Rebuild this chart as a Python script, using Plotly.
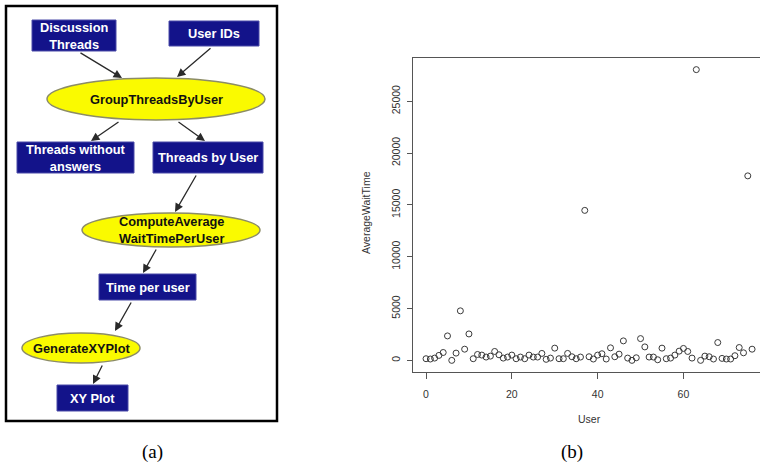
import plotly.graph_objects as go

# ---------------- data: panel (b) scatter ----------------
avg_wait_time = [160, 130, 220, 480, 760, 2360, 0, 700, 4780, 1080,
                 2550, 160, 570, 510, 320, 410, 860, 540, 220, 320,
                 510, 160, 320, 160, 510, 320, 320, 670, 100, 220,
                 1180, 160, 160, 670, 350, 160, 320, 14470, 350, 130,
                 510, 640, 130, 1210, 350, 600, 1880, 220, 0, 250,
                 2100, 1300, 320, 320, 60, 1180, 160, 220, 510, 890,
                 1150, 860, 220, 28050, 0, 410, 350, 130, 1720, 190,
                 130, 130, 450, 1240, 730, 17800, 1080]
users = list(range(len(avg_wait_time)))
x_ticks = [0, 20, 40, 60]
x_tick_labels = ["0", "20", "40", "60"]
y_ticks = [0, 5000, 10000, 15000, 20000, 25000]
y_tick_labels = ["0", "5000", "10000", "15000", "20000", "25000"]

# ---------------- data: panel (a) workflow ----------------
node_labels = ["Discussion<br>Threads", "User IDs", "GroupThreadsByUser",
               "Threads without<br>answers", "Threads by User",
               "ComputeAverage<br>WaitTimePerUser", "Time per user",
               "GenerateXYPlot", "XY Plot"]
node_kinds = ["data", "data", "process", "data", "data",
              "process", "data", "process", "data"]
edges = [(0, 2), (1, 2), (2, 3), (2, 4), (4, 5), (5, 6), (6, 7), (7, 8)]

# layout of the diagram (pixel space, y downwards): x0, y0, x1, y1
node_boxes = [(32, 20, 116, 51), (169, 21, 259, 46), (47, 78, 265, 120),
              (17, 142, 134, 173), (153, 142, 263, 173), (82, 213, 260, 247),
              (99, 274, 196, 300), (22, 333, 140, 363), (57, 385, 128, 411)]
edge_paths = [((79, 52), (122, 78)), ((212, 47), (177, 77)),
              ((120, 121), (91, 141)), ((177, 121), (205, 141)),
              ((197, 174), (175, 212)), ((157, 248), (143, 273)),
              ((132, 301), (115, 331)), ((103, 364), (93, 384))]

W, H = 760, 466
fig = go.Figure()

fig.add_trace(go.Scatter(
    x=users, y=avg_wait_time, mode="markers",
    marker=dict(symbol="circle-open", size=6, color="#3a3a3a",
                line=dict(width=1, color="#3a3a3a")),
    xaxis="x", yaxis="y", showlegend=False, hoverinfo="x+y"))

shapes = []
annotations = []

# outer frame of panel (a)
shapes.append(dict(type="rect", xref="x2", yref="y2", x0=6, y0=6, x1=277, y1=421,
                   line=dict(color="black", width=2.5), fillcolor="rgba(0,0,0,0)"))

for label, kind, (x0, y0, x1, y1) in zip(node_labels, node_kinds, node_boxes):
    if kind == "data":
        shapes.append(dict(type="rect", xref="x2", yref="y2", x0=x0, y0=y0, x1=x1, y1=y1,
                           fillcolor="#13138a", line=dict(color="#4a4aa8", width=1)))
        color = "white"
    else:
        shapes.append(dict(type="circle", xref="x2", yref="y2", x0=x0, y0=y0, x1=x1, y1=y1,
                           fillcolor="#fafa00", line=dict(color="#8c8c66", width=1.5)))
        color = "#111111"
    annotations.append(dict(x=(x0 + x1) / 2, y=(y0 + y1) / 2, xref="x2", yref="y2",
                            text="<b>" + label + "</b>", showarrow=False,
                            font=dict(family="Arial, Liberation Sans", size=12.8, color=color),
                            xanchor="center", yanchor="middle"))

for (tail, head) in edge_paths:
    annotations.append(dict(x=head[0], y=head[1], ax=tail[0], ay=tail[1],
                            xref="x2", yref="y2", axref="x2", ayref="y2",
                            text="", showarrow=True, arrowhead=2, arrowsize=1.3,
                            arrowwidth=1.3, arrowcolor="#2a2a2a", standoff=0))

# captions
annotations.append(dict(x=152, y=452, xref="x2", yref="y2", text="(a)", showarrow=False,
                        font=dict(family="Times New Roman, Liberation Serif", size=19, color="black")))
annotations.append(dict(x=572, y=452, xref="x2", yref="y2", text="(b)", showarrow=False,
                        font=dict(family="Times New Roman, Liberation Serif", size=19, color="black")))

# axis titles of panel (b)
annotations.append(dict(x=589, y=419, xref="x2", yref="y2", text="User", showarrow=False,
                        font=dict(family="Arial, Liberation Sans", size=10.5, color="#333")))
annotations.append(dict(x=366, y=213, xref="x2", yref="y2", text="AverageWaitTime",
                        showarrow=False, textangle=-90,
                        font=dict(family="Arial, Liberation Sans", size=10.5, color="#333")))

# pixel geometry of panel (b)
left_px, top_px, bottom_px = 413, 58, 372
x_lo, x_hi = -3.04, -3.04 + (W - left_px) / 4.29

fig.update_layout(
    width=W, height=H, margin=dict(l=0, r=0, t=0, b=0),
    paper_bgcolor="white", plot_bgcolor="rgba(0,0,0,0)",
    shapes=shapes, annotations=annotations,
    xaxis=dict(domain=[left_px / W, 1], range=[x_lo, x_hi], anchor="y",
               tickvals=x_ticks, ticktext=x_tick_labels,
               ticks="outside", ticklen=6, tickcolor="#555",
               showline=True, linecolor="#555", linewidth=1, mirror=True,
               showgrid=False, zeroline=False, ticklabelstandoff=6,
               tickfont=dict(family="Arial, Liberation Sans", size=10.5, color="#333")),
    yaxis=dict(domain=[(H - bottom_px) / H, (H - top_px) / H], range=[-1122, 29172],
               anchor="x", tickvals=y_ticks, ticktext=y_tick_labels,
               ticks="outside", ticklen=5, tickcolor="#555",
               tickangle=-90, showline=True, linecolor="#555", linewidth=1,
               showgrid=False, zeroline=False, ticklabelstandoff=3,
               tickfont=dict(family="Arial, Liberation Sans", size=10.5, color="#333")),
    xaxis2=dict(domain=[0, 1], range=[0, W], visible=False, fixedrange=True, anchor="y2"),
    yaxis2=dict(domain=[0, 1], range=[H, 0], visible=False, fixedrange=True, anchor="x2"),
)

fig.write_html("out.html", config={"displayModeBar": False},
               post_script="document.body.style.margin='0';document.body.style.overflow='hidden';")
